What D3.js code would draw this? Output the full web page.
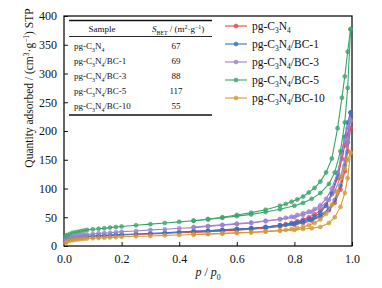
<!DOCTYPE html>
<html>
<head>
<meta charset="utf-8">
<script src="https://cdn.jsdelivr.net/npm/d3@7"></script>
<style>
  body { margin: 0; background: #fff; }
  svg text { font-family: "Liberation Serif", "DejaVu Serif", serif; fill: #111; }
</style>
</head>
<body>
<div id="chart"></div>
<script>
// Relative pressure steps (adsorption up, desorption down)
const pAds = [0.005, 0.01, 0.02, 0.03, 0.04, 0.05, 0.06, 0.07, 0.08, 0.10, 0.12, 0.14, 0.16, 0.18, 0.20, 0.25, 0.30, 0.35, 0.40, 0.45, 0.50, 0.55, 0.60, 0.65, 0.70, 0.75, 0.80, 0.83, 0.86, 0.89, 0.92, 0.94, 0.96, 0.975, 0.985, 0.995];
const pDes = [0.995, 0.985, 0.975, 0.965, 0.95, 0.93, 0.91, 0.89, 0.87, 0.85, 0.83, 0.81, 0.79, 0.77, 0.75, 0.70, 0.65, 0.60, 0.55, 0.50, 0.45];

// Series names & colours
const sampleNames = ["pg-C3N4", "pg-C3N4/BC-1", "pg-C3N4/BC-3", "pg-C3N4/BC-5", "pg-C3N4/BC-10"];
const sampleColors = ["#e5484d", "#3a70c4", "#a07fd2", "#3aa56b", "#d39a35"];
const sBET = [67, 69, 88, 117, 55];

// Quantity adsorbed (cm3/g STP)
const adsC3N4 = [8, 10, 12, 13, 14, 14.5, 15, 15.5, 16, 16.5, 17, 17.5, 18, 18.5, 19, 20, 21, 22, 23, 24, 25, 26, 27.5, 29, 31, 34, 37, 40, 44, 51, 62, 75, 98, 130, 165, 205];
const desC3N4 = [205, 195, 175, 152, 118, 90, 72, 62, 55, 50, 46, 43, 40, 38, 36, 32, 30, 28, 26.5, 25, 24];
const adsBC1 = [9, 11, 13, 14, 15, 15.5, 16, 16.5, 17, 17.5, 18, 18.5, 19, 19.5, 20, 21, 22, 23, 24.5, 25.5, 26.5, 28, 29.5, 31, 33, 36, 39, 42, 46, 53, 65, 80, 105, 140, 180, 232];
const desBC1 = [232, 215, 190, 163, 125, 92, 70, 58, 51, 47, 44, 41, 39, 37, 36, 33, 31, 29.5, 28, 26.5, 25.5];
const adsBC3 = [11, 13, 15, 16, 17, 18, 19, 19.5, 20, 21, 22, 22.5, 23, 24, 25, 26, 28, 29, 31, 32, 34, 36, 38, 40, 43, 46, 50, 54, 59, 67, 80, 95, 120, 150, 180, 218];
const desBC3 = [218, 205, 185, 160, 128, 100, 82, 71, 64, 60, 57, 54, 51, 49, 47, 44, 41, 39, 37, 35, 33];
const adsBC5 = [17, 19, 21, 23, 24, 25, 26, 27, 28, 29, 30, 31, 32, 33, 34, 36, 38, 40, 42, 44, 46, 49, 52, 55, 59, 64, 70, 75, 82, 92, 108, 128, 165, 215, 275, 377];
const desBC5 = [377, 338, 295, 258, 205, 152, 128, 112, 101, 93, 86, 81, 77, 73, 70, 63, 58, 54, 50, 47, 44];
const adsBC10 = [5, 7, 9, 10, 11, 11.5, 12, 12.5, 13, 13.5, 14, 14.5, 15, 15.5, 16, 17, 17.5, 18.5, 19, 20, 21, 21.5, 22.5, 23.5, 25, 26.5, 28, 29.5, 31, 33, 40, 50, 68, 92, 118, 162];
const desBC10 = [162, 150, 135, 120, 95, 72, 56, 46, 40, 36, 33, 31, 29.5, 28, 27, 25.5, 24, 23, 22, 21, 20];

const adsData = [adsC3N4, adsBC1, adsBC3, adsBC5, adsBC10];
const desData = [desC3N4, desBC1, desBC3, desBC5, desBC10];

const xTicks = [0, 0.2, 0.4, 0.6, 0.8, 1.0];
const yTicks = [0, 50, 100, 150, 200, 250, 300, 350, 400];

// Dimensions
const W = 382, H = 288;
const mLeft = 64, mRight = 352, mTop = 16, mBottom = 246;

const svg = d3.select("#chart").append("svg").attr("width", W).attr("height", H);

const x = d3.scaleLinear().domain([0, 1]).range([mLeft, mRight]);
const y = d3.scaleLinear().domain([0, 400]).range([mBottom, mTop]);

// Axes with inward ticks
const xAxis = svg.append("g").attr("transform", "translate(0," + mBottom + ")")
  .call(d3.axisBottom(x).tickValues(xTicks).tickFormat(d3.format(".1f")).tickSizeInner(-4).tickSizeOuter(0).tickPadding(8));
const yAxis = svg.append("g").attr("transform", "translate(" + mLeft + ",0)")
  .call(d3.axisLeft(y).tickValues(yTicks).tickSizeInner(-4).tickSizeOuter(0).tickPadding(7));
[xAxis, yAxis].forEach(a => {
  a.select(".domain").remove();
  a.selectAll("line").attr("stroke", "#111").attr("stroke-width", 1);
  a.selectAll("text").style("font-family", "Liberation Serif").style("font-size", "12px").attr("fill", "#111");
});

// Frame
svg.append("rect").attr("x", mLeft).attr("y", mTop).attr("width", mRight - mLeft).attr("height", mBottom - mTop)
  .attr("fill", "none").attr("stroke", "#111").attr("stroke-width", 1.3);

// Isotherm curves
const line = d3.line().x(d => x(d[0])).y(d => y(d[1]));
for (let i = 0; i < sampleNames.length; i++) {
  let g = svg.append("g");
  let ads = pAds.map((p, j) => [p, adsData[i][j]]);
  let des = pDes.map((p, j) => [p, desData[i][j]]);
  [ads, des].forEach(pts => {
    g.append("path").attr("d", line(pts)).attr("fill", "none").attr("stroke", sampleColors[i]).attr("stroke-width", 1.1);
    g.selectAll(null).data(pts).enter().append("circle")
      .attr("cx", d => x(d[0])).attr("cy", d => y(d[1])).attr("r", 2)
      .attr("fill", sampleColors[i]).attr("fill-opacity", 0.75).attr("stroke", sampleColors[i]).attr("stroke-width", 0.6);
  });
}

// Helper: rich text, parts = [text, "sub"|"sup"|"it"|""]
function rich(sel, parts, fs) {
  let shift = 0;
  parts.forEach(([txt, kind]) => {
    let t = sel.append("tspan").text(txt);
    let target = kind == "sub" ? 0.3 * fs : (kind == "sup" ? -0.38 * fs : 0);
    if (target != shift) t.attr("dy", target - shift);
    shift = target;
    if (kind == "sub" || kind == "sup") t.attr("font-size", (fs * 0.65) + "px");
    if (kind == "it") t.attr("font-style", "italic");
  });
}

// Chemical name -> parts with C3N4 subscripts
function nameParts(name) {
  let rest = name.replace("pg-C3N4", "");
  let parts = [["pg-C", ""], ["3", "sub"], ["N", ""], ["4", "sub"]];
  if (rest) parts.push([rest, ""]);
  return parts;
}

// Table inset
const tx0 = 69, tx1 = 212;
svg.append("line").attr("x1", tx0).attr("x2", tx1).attr("y1", 20.5).attr("y2", 20.5).attr("stroke", "#111").attr("stroke-width", 1.3);
svg.append("line").attr("x1", tx0).attr("x2", tx1).attr("y1", 36.5).attr("y2", 36.5).attr("stroke", "#111").attr("stroke-width", 0.9);
svg.append("line").attr("x1", tx0).attr("x2", tx1).attr("y1", 115).attr("y2", 115).attr("stroke", "#111").attr("stroke-width", 1.3);
svg.append("text").attr("x", 102).attr("y", 32).attr("text-anchor", "middle").style("font-size", "9px").text("Sample");
let hdr = svg.append("text").attr("x", 152).attr("y", 32).style("font-size", "9px");
rich(hdr, [["S", "it"], ["BET", "sub"], [" / (m", ""], ["2", "sup"], ["\u00b7g", ""], ["\u22121", "sup"], [")", ""]], 9);
for (let i = 0; i < sampleNames.length; i++) {
  let ry = 49 + i * 15.1;
  let t = svg.append("text").attr("x", 74).attr("y", ry).style("font-size", "9px");
  rich(t, nameParts(sampleNames[i]), 9);
  svg.append("text").attr("x", 176).attr("y", ry).attr("text-anchor", "middle").style("font-size", "9px").text(sBET[i]);
}

// Legend
for (let i = 0; i < sampleNames.length; i++) {
  let ly = 26 + i * 18;
  svg.append("line").attr("x1", 225).attr("x2", 247).attr("y1", ly).attr("y2", ly).attr("stroke", sampleColors[i]).attr("stroke-width", 1.1);
  svg.append("circle").attr("cx", 236).attr("cy", ly).attr("r", 2).attr("fill", sampleColors[i]).attr("fill-opacity", 0.75).attr("stroke", sampleColors[i]).attr("stroke-width", 0.6);
  let t = svg.append("text").attr("x", 252).attr("y", ly + 4).style("font-size", "11.5px");
  rich(t, nameParts(sampleNames[i]), 11.5);
}

// Axis labels
let xl = svg.append("text").attr("x", 208).attr("y", 276).attr("text-anchor", "middle").style("font-size", "12px");
rich(xl, [["p", "it"], [" / ", ""], ["p", "it"], ["0", "sub"]], 12);

let yl = svg.append("text").attr("transform", "translate(33,88) rotate(-90)").attr("text-anchor", "middle").style("font-size", "11.5px");
rich(yl, [["Quantity adsorbed / (cm", ""], ["3", "sup"], ["\u00b7g", ""], ["\u22121", "sup"], [") STP", ""]], 11.5);
</script>
</body>
</html>
